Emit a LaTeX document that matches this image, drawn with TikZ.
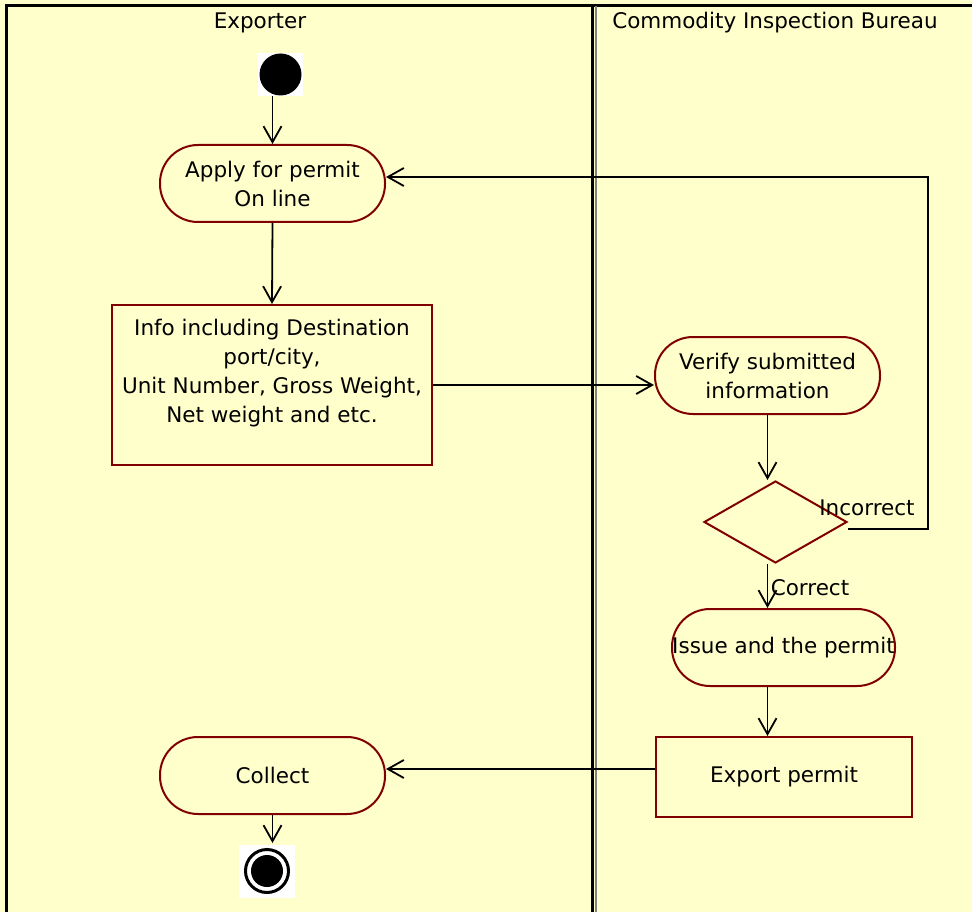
\documentclass[tikz,border=0pt]{standalone}
\usepackage{fontspec}
\setmainfont{DejaVu Sans}
\usetikzlibrary{positioning,shapes.geometric,arrows.meta}

\definecolor{lanefill}{HTML}{FFFFCC}
\definecolor{boxred}{HTML}{800000}

\tikzset{
  activity/.style={draw=boxred, line width=2pt, rectangle, rounded corners=38pt,
    minimum width=225pt, minimum height=77pt, inner sep=2pt, align=center},
  infobox/.style={draw=boxred, line width=2pt, rectangle, inner sep=2pt, align=center},
  decision/.style={draw=boxred, line width=2pt, diamond, minimum width=143pt,
    minimum height=82pt, inner sep=0pt},
  flow/.style={line width=1.8pt, -{Straight Barb[length=16pt,width=18pt,line width=1.8pt]}},
  lane/.style={line width=3pt}
}

\begin{document}
\begin{tikzpicture}[x=1pt, y=-1pt, font=\fontsize{21.5}{29}\selectfont]
\useasboundingbox (0,0) rectangle (972,912);
\fill[lanefill] (0,0) rectangle (972,912);

% swimlanes
\draw[lane](6,912) -- (6,6) -- (972,6);
\draw[lane](592,6) -- (592,912);
\draw[line width=2pt, color=gray](595.5,6) -- (595.5,912);
\node (exporter) at (260,23) {Exporter};
\node (bureau) at (775,23) {Commodity Inspection Bureau};

% start and end
\fill[white] (258,53) rectangle (303,96);
\node[circle, fill=black, minimum size=42pt, inner sep=0pt] (start) at (280.5,74.5) {};
\fill[white] (239,845) rectangle (295,898);
\node[circle, draw=black, line width=3pt, minimum size=43pt, inner sep=0pt] (stop) at (267,871) {};
\fill[black] (stop.center) circle (16pt);

% activities
\node[activity] (apply) at (272.5,183.5) {Apply for permit\\On line};
\node[infobox, minimum width=320pt, minimum height=160pt] (info) at (272,385)
  {Info including Destination\\port/city,\\Unit Number, Gross Weight,\\Net weight and etc.\\~};
\node[activity] (verify) at (767.5,375.5) {Verify submitted\\information};
\node[decision] (check) at (775.5,522) {};
\node[activity, minimum width=223pt, inner sep=0pt] (issue) at (783.5,647.5) {Issue and the permit};
\node[infobox, minimum width=256pt, minimum height=80pt] (export) at (784,777) {Export permit};
\node[activity] (collect) at (272.5,775.5) {Collect};
\node (incorrect) at (867,508) {Incorrect};
\node (correct) at (810,588) {Correct};
\coordinate (back) at (928,177);

% connectors
\draw[flow](apply.north |- 0,96) -- (apply.north);
\draw[flow](apply.south) -- (info.north);
\draw[flow](info.east) -- (info.east -| verify.west);
\draw[flow](verify.south) -- (verify.south |- check.north);
\draw[flow]([yshift=-7pt]check.east) -| (back) -- ([yshift=6.5pt]apply.east);
\draw[flow](check.south -| verify.south) -- (verify.south |- issue.north);
\draw[flow](issue.south -| verify.south) -- (verify.south |- export.north);
\draw[flow]([yshift=8pt]export.west) -- ([yshift=8pt]export.west -| collect.east);
\draw[flow](collect.south) -- (collect.south |- 0,843);
\end{tikzpicture}
\end{document}
